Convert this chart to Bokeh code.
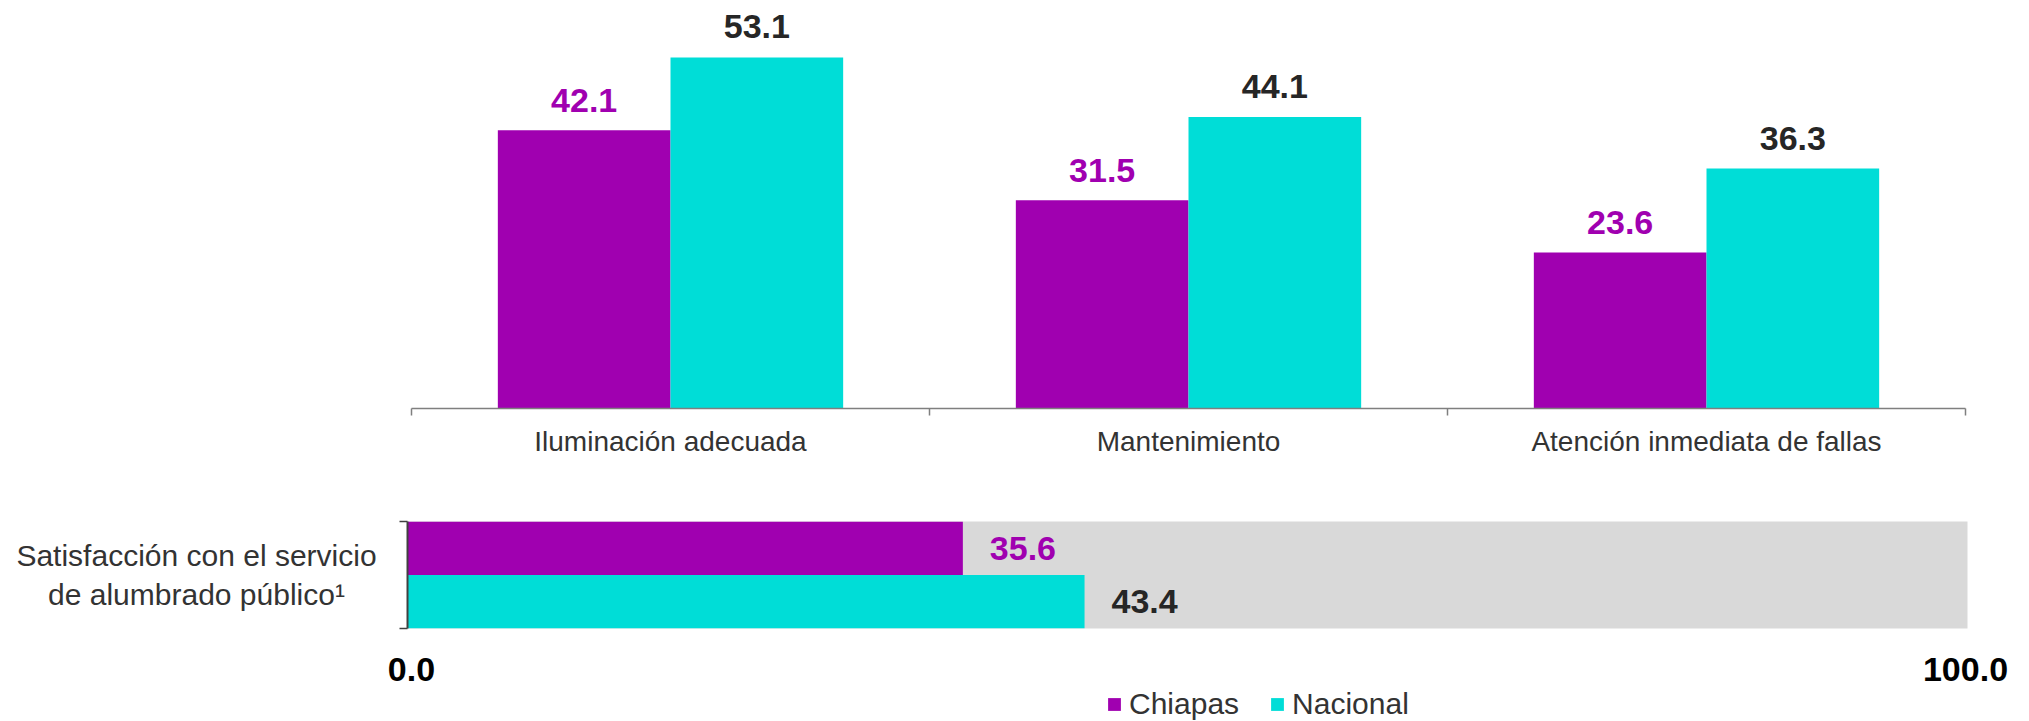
import numpy as np
from bokeh.plotting import figure
from bokeh.models import (ColumnDataSource, Range1d, LinearAxis, FixedTicker, LabelSet,
                          Legend, LegendItem, NumeralTickFormatter)
from bokeh.layouts import column, row
from bokeh.embed import file_html
from bokeh.resources import INLINE
from bokeh.core.properties import value

# ---------------- data ----------------
categories = ["Iluminación adecuada", "Mantenimiento", "Atención inmediata de fallas"]
chiapas = [42.1, 31.5, 23.6]
nacional = [53.1, 44.1, 36.3]
series = ["Chiapas", "Nacional"]
sat_label = "Satisfacción con el servicio\nde alumbrado público¹"
sat_values = [35.6, 43.4]
scale_ticks = [0.0, 100.0]

# ---------------- style ----------------
PURPLE = "#A000B0"
CYAN = "#00DDD7"
GRAY_BG = "#D9D9D9"
DARK = "#262626"
TXT = "#333333"
AXIS = "#7F7F7F"
FONT = "Liberation Sans"
W = 2029

# ---------------- top chart ----------------
n = len(categories)
idx = np.arange(n)
src = ColumnDataSource(dict(
    cat=categories,
    xc=idx + 0.5 - 1 / 6,
    xn=idx + 0.5 + 1 / 6,
    chiapas=chiapas,
    nacional=nacional,
    lc=[f"{v:.1f}" for v in chiapas],
    ln=[f"{v:.1f}" for v in nacional],
))

p1 = figure(width=W, height=500, x_range=Range1d(0, n), y_range=Range1d(0, 60.5),
            output_backend="svg", toolbar_location=None,
            x_axis_location=None, y_axis_location=None,
            min_border_left=411, min_border_right=64, min_border_top=8, min_border_bottom=92,
            outline_line_color=None)
p1.grid.visible = False

p1.vbar(x="xc", top="chiapas", width=1 / 3, bottom=0, source=src,
        fill_color=PURPLE, line_color=None)
p1.vbar(x="xn", top="nacional", width=1 / 3, bottom=0, source=src,
        fill_color=CYAN, line_color=None)

p1.add_layout(LabelSet(x="xc", y="chiapas", text="lc", source=src, y_offset=18,
                       text_align="center", text_baseline="alphabetic",
                       text_font=value(FONT), text_font_style="bold",
                       text_font_size="34px", text_color=PURPLE))
p1.add_layout(LabelSet(x="xn", y="nacional", text="ln", source=src, y_offset=19,
                       text_align="center", text_baseline="alphabetic",
                       text_font=value(FONT), text_font_style="bold",
                       text_font_size="34px", text_color=DARK))

xaxis = LinearAxis(ticker=FixedTicker(ticks=[float(i) + 0.5 for i in idx],
                                      minor_ticks=[float(i) for i in range(n + 1)]))
xaxis.major_label_overrides = {float(i) + 0.5: c for i, c in enumerate(categories)}
xaxis.axis_line_color = AXIS
xaxis.axis_line_width = 1.5
xaxis.major_tick_line_color = None
xaxis.major_tick_out = 7
xaxis.major_tick_in = 0
xaxis.minor_tick_line_color = AXIS
xaxis.minor_tick_line_width = 1.5
xaxis.minor_tick_out = 7
xaxis.minor_tick_in = 0
xaxis.major_label_standoff = 10
xaxis.major_label_text_font = FONT
xaxis.major_label_text_font_size = "28px"
xaxis.major_label_text_color = TXT
p1.add_layout(xaxis, "below")

# ---------------- bottom chart ----------------
m = len(series)
ys = [m - i - 0.5 for i in range(m)]
src2 = ColumnDataSource(dict(
    series=series,
    y=ys,
    val=sat_values,
    lab=[f"{v:.1f}" for v in sat_values],
    tcolor=[PURPLE, DARK],
))

H2 = 130
LW = 392
xr2 = Range1d(scale_ticks[0], scale_ticks[1])
p2 = figure(width=W - LW, height=H2, x_range=xr2, y_range=Range1d(0, m),
            output_backend="svg", toolbar_location=None,
            x_axis_location=None, y_axis_location=None,
            min_border_left=15, min_border_right=62, min_border_top=21, min_border_bottom=2,
            background_fill_color=GRAY_BG, outline_line_color=None)
p2.grid.visible = False

p2.hbar(y=ys[0], right=sat_values[0], left=0, height=1, fill_color=PURPLE, line_color=None)
p2.hbar(y=ys[1], right=sat_values[1], left=0, height=1, fill_color=CYAN, line_color=None)

p2.add_layout(LabelSet(x="val", y="y", text="lab", source=src2, x_offset=27,
                       text_align="left", text_baseline="middle",
                       text_font=value(FONT), text_font_style="bold",
                       text_font_size="34px", text_color="tcolor"))

yaxis = LinearAxis(ticker=FixedTicker(ticks=[], minor_ticks=[0.0, float(m)]))
yaxis.axis_line_color = "#404040"
yaxis.axis_line_width = 2
yaxis.minor_tick_line_color = "#404040"
yaxis.minor_tick_line_width = 1.5
yaxis.minor_tick_out = 8
yaxis.minor_tick_in = 0
yaxis.major_tick_line_color = None
yaxis.major_tick_out = 0
yaxis.major_tick_in = 0
yaxis.major_label_standoff = 0
yaxis.major_label_text_font_size = "0px"
p2.add_layout(yaxis, "left")

# side label panel (category name of the bottom chart)
pl = figure(width=LW, height=H2, x_range=Range1d(0, 1), y_range=Range1d(0, m),
            output_backend="svg", toolbar_location=None,
            x_axis_location=None, y_axis_location=None,
            min_border_left=0, min_border_right=0, min_border_top=21, min_border_bottom=2,
            outline_line_color=None)
pl.grid.visible = False
pl.text(x=[0.5], y=[m / 2], text=[sat_label], text_align="center", text_baseline="middle",
        text_font=value(FONT), text_font_size="30px", text_color=TXT, text_line_height=1.2)

# scale labels (0.0 / 100.0) and legend strip
H3 = 721 - 500 - H2
pleg = figure(width=W, height=H3, x_range=xr2, y_range=Range1d(m + 1, m + 2),
              output_backend="svg", toolbar_location=None,
              x_axis_location=None, y_axis_location=None,
              min_border_left=407, min_border_right=62, min_border_top=56, min_border_bottom=0,
              outline_line_color=None)
pleg.grid.visible = False

xaxis2 = LinearAxis(ticker=FixedTicker(ticks=scale_ticks),
                    formatter=NumeralTickFormatter(format="0.0"))
xaxis2.axis_line_color = None
xaxis2.major_tick_line_color = None
xaxis2.minor_tick_line_color = None
xaxis2.major_tick_out = 0
xaxis2.major_tick_in = 0
xaxis2.major_label_standoff = 6
xaxis2.major_label_text_font = FONT
xaxis2.major_label_text_font_style = "bold"
xaxis2.major_label_text_font_size = "34px"
xaxis2.major_label_text_color = "#000000"
pleg.add_layout(xaxis2, "above")

# legend keys: the same series bars, kept outside this strip's visible range
lr_c = pleg.hbar(y=ys[0], right=sat_values[0], left=0, height=1,
                 fill_color=PURPLE, line_color=None)
lr_n = pleg.hbar(y=ys[1], right=sat_values[1], left=0, height=1,
                 fill_color=CYAN, line_color=None)

legend = Legend(items=[LegendItem(label=series[0], renderers=[lr_c]),
                       LegendItem(label=series[1], renderers=[lr_n])],
                location=(695, 0), orientation="horizontal",
                glyph_width=16, glyph_height=16, label_standoff=7, spacing=30,
                padding=0, margin=0, border_line_color=None, background_fill_alpha=0,
                label_text_font=FONT, label_text_font_size="30px", label_text_color=TXT)
pleg.add_layout(legend, "center")

layout = column(p1, row(pl, p2), pleg)
open("out.html", "w").write(file_html(layout, INLINE))
